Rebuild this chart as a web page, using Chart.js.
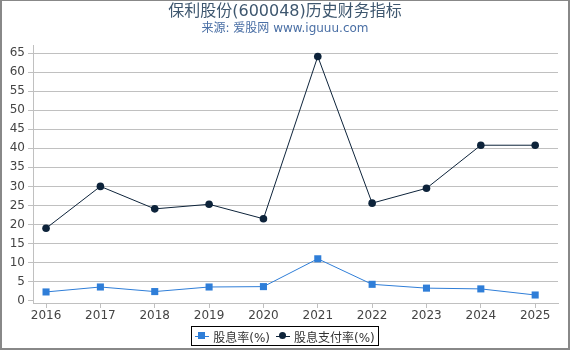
<!DOCTYPE html>
<html>
<head>
<meta charset="utf-8">
<script src="https://cdn.jsdelivr.net/npm/chart.js@4"></script>
<style>
    body { margin: 0; background: #fff; font-family: "DejaVu Sans", "Noto Sans CJK SC", sans-serif; }
    #wrap { position: relative; width: 570px; height: 350px; overflow: hidden; }
    #chart { position: absolute; left: 0; top: 0; }
    #frame { position: absolute; left: 0; top: 0; width: 570px; height: 350px; box-sizing: border-box;
             border: 2px solid #888; border-top-width: 1px; pointer-events: none; }
    #title { position: absolute; left: 0; width: 570px; top: 1px; text-align: center; font-size: 16px; color: #3e576f; line-height: 20px; }
    #subtitle { position: absolute; left: 0; width: 570px; top: 20px; text-align: center; font-size: 12px; color: #4a6fa5; line-height: 16px; }
    #legend { position: absolute; left: 191px; top: 326px; width: 188px; height: 20px; box-sizing: border-box;
              border: 1px solid #000; font-size: 12px; color: #333; display: flex; align-items: center; justify-content: center; }
    .item { display: flex; align-items: center; margin: 0 3px; }
    .sym { position: relative; width: 14px; height: 10px; margin-right: 4px; }
    .sym .ln { position: absolute; left: 0; right: 0; top: 5px; height: 1px; }
    .sym .mk { position: absolute; left: 3px; top: 1px; width: 7px; height: 7px; }
</style>
</head>
<body>
<div id="wrap">
    <canvas id="chart" width="570" height="350"></canvas>
    <div id="title">保利股份(600048)历史财务指标</div>
    <div id="subtitle">来源: 爱股网 www.iguuu.com</div>
    <div id="legend"></div>
    <div id="frame"></div>
</div>
<script>
// years on the x axis
const years = [2016, 2017, 2018, 2019, 2020, 2021, 2022, 2023, 2024, 2025];
// 股息率(%)
const dividendYield = [2.3, 3.6, 2.4, 3.6, 3.7, 11.0, 4.3, 3.3, 3.1, 1.5];
// 股息支付率(%)
const payoutRatio = [19.0, 30.0, 24.1, 25.3, 21.5, 64.1, 25.6, 29.5, 40.8, 40.8];
// y axis tick labels
const yTicks = [0, 5, 10, 15, 20, 25, 30, 35, 40, 45, 50, 55, 60, 65];

const seriesNames = ['股息率(%)', '股息支付率(%)'];
const seriesColors = ['#2f7ed8', '#0d233a'];

const toPoints = vals => vals.map((v, i) => ({ x: years[i], y: v }));

const ctx = document.getElementById('chart').getContext('2d');
const chart = new Chart(ctx, {
    type: 'line',
    data: {
        datasets: [{
            label: seriesNames[0],
            data: toPoints(dividendYield),
            borderColor: seriesColors[0],
            backgroundColor: seriesColors[0],
            borderWidth: 1,
            pointStyle: 'rect',
            pointRadius: 5,
            pointBorderWidth: 0,
            pointHoverRadius: 5
        }, {
            label: seriesNames[1],
            data: toPoints(payoutRatio),
            borderColor: seriesColors[1],
            backgroundColor: seriesColors[1],
            borderWidth: 1,
            pointStyle: 'circle',
            pointRadius: 3.8,
            pointBorderWidth: 0,
            pointHoverRadius: 3.8
        }]
    },
    options: {
        responsive: false,
        animation: false,
        layout: { padding: { left: 0, right: 12, top: 45, bottom: 0 } },
        plugins: {
            legend: { display: false },
            title: { display: false },
            tooltip: { enabled: false }
        },
        scales: {
            x: {
                type: 'linear',
                min: 2015.76,
                max: 2025.42,
                afterBuildTicks: scale => { scale.ticks = years.map(v => ({ value: v })); },
                afterFit: scale => { scale.height = 47; },
                ticks: {
                    autoSkip: false,
                    maxRotation: 0,
                    padding: 1,
                    color: '#444',
                    font: { family: 'DejaVu Sans', size: 12 },
                    callback: v => String(v)
                },
                grid: { drawOnChartArea: false, drawTicks: true, tickLength: 5, tickColor: '#c0c0c0' },
                border: { color: '#c0c0c0' }
            },
            y: {
                min: -0.6,
                max: 67.1,
                afterBuildTicks: scale => { scale.ticks = yTicks.map(v => ({ value: v })); },
                afterFit: scale => { scale.width = 33; },
                ticks: {
                    padding: 3,
                    color: '#444',
                    font: { family: 'DejaVu Sans', size: 12 },
                    callback: v => String(v)
                },
                grid: {
                    color: c => (c.tick && c.tick.value === 0) ? 'rgba(0,0,0,0)' : '#c0c0c0',
                    tickColor: '#c0c0c0',
                    tickLength: 5
                },
                border: { color: '#c0c0c0' }
            }
        }
    }
});

// legend built from the series
const legend = document.getElementById('legend');
chart.data.datasets.forEach(ds => {
    const item = document.createElement('div');
    item.className = 'item';
    const sym = document.createElement('span');
    sym.className = 'sym';
    const ln = document.createElement('span');
    ln.className = 'ln';
    ln.style.background = ds.borderColor;
    const mk = document.createElement('span');
    mk.className = 'mk';
    mk.style.background = ds.backgroundColor;
    if (ds.pointStyle === 'circle') mk.style.borderRadius = '50%';
    sym.appendChild(ln);
    sym.appendChild(mk);
    const txt = document.createElement('span');
    txt.textContent = ds.label;
    item.appendChild(sym);
    item.appendChild(txt);
    legend.appendChild(item);
});
</script>
</body>
</html>
